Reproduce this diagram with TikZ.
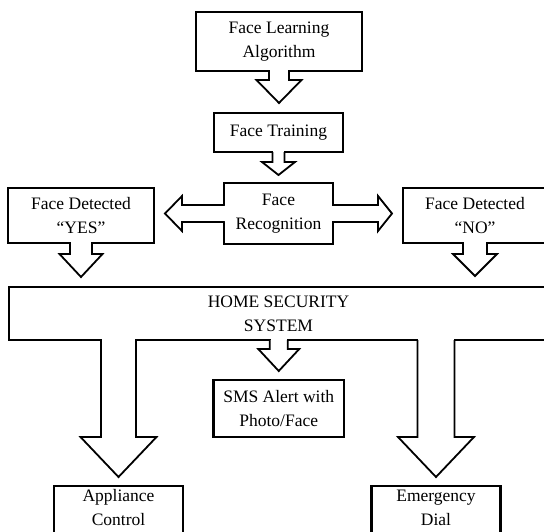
\documentclass[tikz,border=0pt]{standalone}
\usepackage{fontspec}
\setmainfont{Liberation Serif}
\tikzset{
  stage/.style={draw, line width=2.2pt, fill=white, align=center, inner sep=2pt, outer sep=0pt},
  blk/.style={draw, line width=1.8pt, line join=miter, fill=white},
}
% block arrow pointing down: start, shaft half, head half, shaft length, head length
\newcommand{\downblk}[5]{%
  \fill[white] #1 ++({0.9-#2},-1.6) rectangle ++({2*#2-1.8},3.2);
  \draw[blk] #1 ++(-#2,0) -- ++(0,#4) -- ++({#2-#3},0) -- ++(#3,#5)
    -- ++(#3,-#5) -- ++({#2-#3},0) -- ++(0,-#4);
}
% block arrow to the side: start, direction, shaft half, head half, shaft length, head length
\newcommand{\sideblk}[6]{%
  \fill[white] #1 ++(-1.6,{0.9-#3}) rectangle ++(3.2,{2*#3-1.8});
  \draw[blk] #1 ++(0,-#3) -- ++({#2*#5},0) -- ++(0,{#3-#4}) -- ++({#2*#6},#4)
    -- ++({-1*(#2)*#6},#4) -- ++(0,{#3-#4}) -- ++({-1*(#2)*#5},0);
}
\begin{document}
\begin{tikzpicture}[x=1pt, y=-1pt, font=\fontsize{17.5pt}{24pt}\selectfont]
   \useasboundingbox (0,0) rectangle (544,531);
   \clip (0,0) rectangle (544,531);
   % boxes
   \node[stage, minimum width=166pt, minimum height=59pt] (fla) at (279,41.5) {Face Learning\\Algorithm};
   \node[stage, minimum width=129pt, minimum height=39pt] (ft) at (278.5,132.5) {Face Training};
   \node[stage, minimum width=109pt, minimum height=61pt] (rec) at (278.5,213.5) {Face\\Recognition};
   \node[stage, minimum width=146pt, minimum height=55pt] (yes) at (81,215.5) {Face Detected\\“YES”};
   \node[stage, minimum width=144pt, minimum height=55pt] (no) at (475,215.5) {Face Detected\\“NO”};
   \node[stage, minimum width=539pt, minimum height=53pt] (hss) at (278.5,313.5) {HOME SECURITY\\SYSTEM};
   \node[stage, minimum width=130.5pt, minimum height=57pt] (sms) at (278.75,408.5) {SMS Alert with\\Photo/Face};
   \node[stage, minimum width=129pt, minimum height=70pt, anchor=north] (appl) at (118.5,486) {};
   \node[align=center, anchor=north, inner sep=2pt] (appltxt) at ([yshift=4pt]appl.north) {\strut Appliance\\Control};
   \node[stage, minimum width=129pt, minimum height=70pt, anchor=north] (emer) at (436,486) {};
   \node[align=center, anchor=north, inner sep=2pt] (emertxt) at ([yshift=4pt]emer.north) {\strut Emergency\\Dial};
   % arrows
   \downblk{(fla.south)}{10}{22.5}{9}{23}
   \downblk{(ft.south)}{6}{16.5}{10}{13}
   \sideblk{(rec.west)}{-1}{8.5}{17.5}{42}{17}
   \sideblk{(rec.east)}{1}{8.5}{17.5}{45}{14}
   \downblk{(yes.south)}{11}{21.5}{11}{23}
   \downblk{(no.south)}{12}{22}{11}{22}
   \downblk{(hss.south -| appl.north)}{17.5}{38}{97}{40}
   \downblk{(hss.south -| sms.north)}{9}{20.5}{9}{22}
   \downblk{(hss.south -| emer.north)}{18.5}{38}{97}{40}
\end{tikzpicture}
\end{document}
